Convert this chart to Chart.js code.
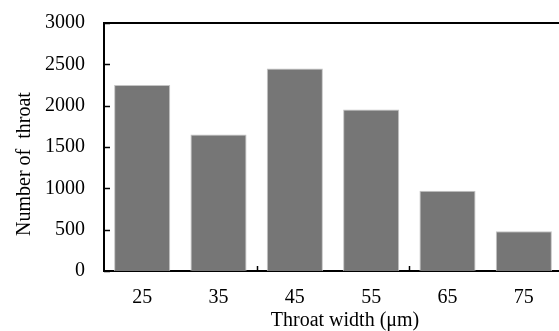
<!DOCTYPE html>
<html>
<head>
<meta charset="utf-8">
<script src="https://cdn.jsdelivr.net/npm/chart.js@4/dist/chart.umd.min.js"></script>
<style>
  html, body { margin: 0; padding: 0; background: #fff; overflow: hidden; }
  #wrap { width: 566px; height: 331px; }
</style>
</head>
<body>
<div id="wrap"><canvas id="c" width="566" height="331"></canvas></div>
<script>
// Throat width classes (µm) and number of throats in each class
const widths = ['25', '35', '45', '55', '65', '75'];
const throatCounts = [2250, 1650, 2450, 1955, 970, 480];
const yTicks = [0, 500, 1000, 1500, 2000, 2500, 3000];

const xTitle = 'Throat width (\u03bcm)';
const yTitle = 'Number of  throat';
const FONT = "'Liberation Serif', 'Times New Roman', serif";

// Frame line along the top, inward tick marks and axis titles
const framePlugin = {
  id: 'frame',
  afterDraw(chart) {
    const { ctx, chartArea: a, scales: { x, y } } = chart;
    ctx.save();
    ctx.strokeStyle = '#000';
    ctx.lineWidth = 2;
    ctx.beginPath();
    ctx.moveTo(a.left, a.top);
    ctx.lineTo(a.right, a.top);
    ctx.lineTo(a.right, a.bottom);
    ctx.stroke();

    // y ticks pointing into the plot
    ctx.lineWidth = 1.5;
    ctx.beginPath();
    yTicks.forEach(v => {
      const py = Math.round(y.getPixelForValue(v)) + 0.5;
      ctx.moveTo(a.left, py);
      ctx.lineTo(a.left + 6, py);
    });
    // x ticks every second category boundary
    [1, 3].forEach(i => {
      const px = Math.round((x.getPixelForValue(i) + x.getPixelForValue(i + 1)) / 2) + 0.5;
      ctx.moveTo(px, a.bottom);
      ctx.lineTo(px, a.bottom - 5);
    });
    ctx.stroke();

    // axis titles
    ctx.fillStyle = '#000';
    ctx.font = '20px ' + FONT;
    ctx.textAlign = 'center';
    ctx.textBaseline = 'alphabetic';
    ctx.fillText(xTitle, 345, 326);
    ctx.translate(30, 164);
    ctx.rotate(-Math.PI / 2);
    ctx.fillText(yTitle, 0, 0);
    ctx.restore();
  }
};

new Chart(document.getElementById('c'), {
  type: 'bar',
  data: {
    labels: widths,
    datasets: [{
      data: throatCounts,
      backgroundColor: '#767676',
      borderColor: '#c4c4c4',
      borderWidth: 1,
      categoryPercentage: 1,
      barPercentage: 0.735
    }]
  },
  options: {
    responsive: false,
    animation: false,
    layout: { padding: { left: 0, top: 23, right: 4, bottom: 0 } },
    plugins: { legend: { display: false }, tooltip: { enabled: false } },
    scales: {
      x: {
        grid: { display: false, drawTicks: false },
        border: { display: true, color: '#000', width: 2 },
        ticks: { color: '#000', font: { family: FONT, size: 20 }, padding: 15, maxRotation: 0 },
        afterFit(scale) {
          scale.height = 60;
          scale.paddingLeft = 0;
          scale.paddingRight = 0;
        }
      },
      y: {
        min: 0,
        max: 3000,
        grid: { display: false, drawTicks: false },
        border: { display: true, color: '#000', width: 2 },
        ticks: {
          color: '#000', font: { family: FONT, size: 20 }, padding: 19, stepSize: 500,
          callback: v => String(v)
        },
        afterFit(scale) {
          scale.width = 104;
          scale.paddingTop = 0;
          scale.paddingBottom = 0;
        }
      }
    }
  },
  plugins: [framePlugin]
});
</script>
</body>
</html>
